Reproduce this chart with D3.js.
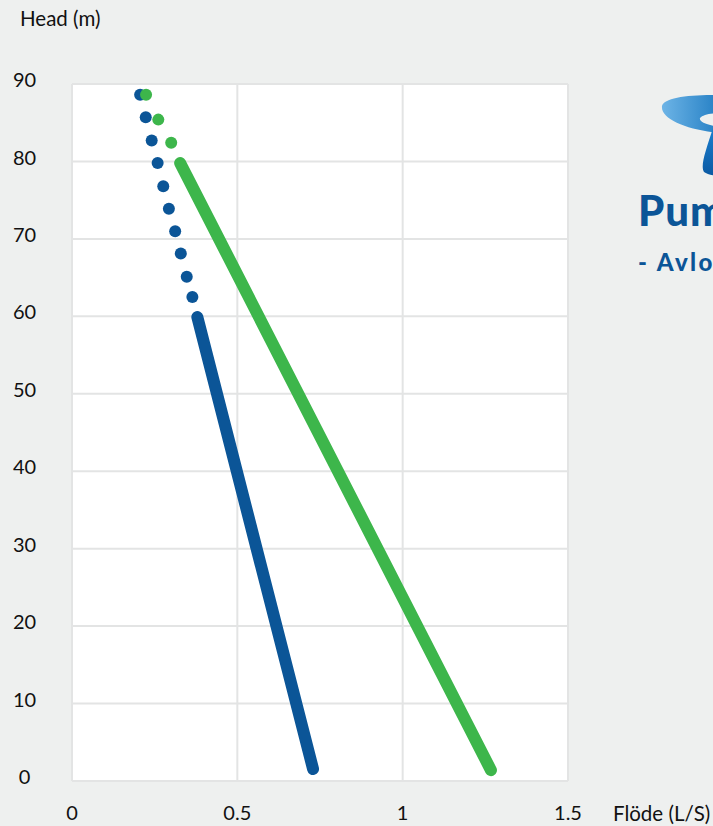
<!DOCTYPE html>
<html><head><meta charset="utf-8">
<script src="https://cdn.jsdelivr.net/npm/d3@7"></script>
<style>
html,body{margin:0;padding:0;background:#eef0ef;overflow:hidden;}
svg{display:block;font-family:Lato,"Open Sans",sans-serif;}
</style></head>
<body>
<svg id="c" width="713" height="826"></svg>
<script>
const xTicks = [0, 0.5, 1, 1.5];
const xTickLabels = ["0", "0.5", "1", "1.5"];
const yTicks = [0, 10, 20, 30, 40, 50, 60, 70, 80, 90];
const blueDots = [[0.206,88.6],[0.223,85.7],[0.241,82.7],[0.259,79.8],[0.276,76.8],[0.293,73.9],[0.312,71.0],[0.329,68.1],[0.347,65.1],[0.364,62.5]];
const blueLine = [[0.379,59.9],[0.729,1.55]];
const greenDots = [[0.224,88.6],[0.261,85.4],[0.300,82.4]];
const greenLine = [[0.327,79.8],[1.267,1.4]];
const blueColor = "#0b5597";
const greenColor = "#3db64b";

const svg = d3.select("#c");
const x = d3.scaleLinear().domain([0,1.5]).range([72,568]);
const y = d3.scaleLinear().domain([0,90]).range([781,84]);

// plot background
svg.append("rect").attr("x",x(0)).attr("y",y(90)).attr("width",x(1.5)-x(0)).attr("height",y(0)-y(90)).attr("fill","#ffffff");

// gridlines
svg.append("g").selectAll("line.h").data(yTicks).join("line")
  .attr("x1",x(0)).attr("x2",x(1.5)).attr("y1",d=>y(d)).attr("y2",d=>y(d))
  .attr("stroke","#e3e4e4").attr("stroke-width",2);
svg.append("g").selectAll("line.v").data(xTicks).join("line")
  .attr("y1",y(0)).attr("y2",y(90)).attr("x1",d=>x(d)).attr("x2",d=>x(d))
  .attr("stroke","#e3e4e4").attr("stroke-width",2);

// y tick labels
svg.append("g").selectAll("text").data(yTicks).join("text")
  .attr("x",24.5).attr("y",d=>y(d)-2).attr("text-anchor","middle").attr("dominant-baseline","middle")
  .attr("font-size",20).attr("fill","#111").text(d=>d);
// x tick labels
svg.append("g").selectAll("text").data(xTicks).join("text")
  .attr("x",d=>x(d)).attr("y",820).attr("text-anchor","middle")
  .attr("font-size",20).attr("fill","#111").text((d,i)=>xTickLabels[i]);

svg.append("text").attr("x",20).attr("y",26).attr("font-size",20.5).attr("fill","#111").text("Head (m)");
svg.append("text").attr("x",613).attr("y",821).attr("font-size",20.5).attr("fill","#111").text("Flöde (L/S)");

// lines
const line = d3.line().x(d=>x(d[0])).y(d=>y(d[1]));
svg.append("path").datum(blueLine).attr("d",line).attr("stroke",blueColor).attr("stroke-width",12).attr("stroke-linecap","round").attr("fill","none");
svg.append("path").datum(greenLine).attr("d",line).attr("stroke",greenColor).attr("stroke-width",12).attr("stroke-linecap","round").attr("fill","none");
svg.append("g").selectAll("circle").data(blueDots).join("circle")
  .attr("cx",d=>x(d[0])).attr("cy",d=>y(d[1])).attr("r",6).attr("fill",blueColor);
svg.append("g").selectAll("circle").data(greenDots).join("circle")
  .attr("cx",d=>x(d[0])).attr("cy",d=>y(d[1])).attr("r",6).attr("fill",greenColor);

// logo (partially cropped by the page edge, as in the reference)
const defs = svg.append("defs");
const g1 = defs.append("linearGradient").attr("id","sw").attr("x1","0").attr("x2","1").attr("y1","0").attr("y2","0");
g1.append("stop").attr("offset","0").attr("stop-color","#6db4e6");
g1.append("stop").attr("offset","1").attr("stop-color","#0a6cb8");
const g2 = defs.append("linearGradient").attr("id","dr").attr("x1","0").attr("x2","0").attr("y1","0").attr("y2","1");
g2.append("stop").attr("offset","0").attr("stop-color","#1a7fcf");
g2.append("stop").attr("offset","1").attr("stop-color","#0b5aa3");
svg.append("path").attr("d","M662,106 C664,96 700,93 740,96 L740,116 C725,112 705,112 700,118 C698,124 720,128 740,130 L740,134 C700,134 660,122 662,106 Z").attr("fill","url(#sw)");
svg.append("path").attr("d","M713,128 L740,128 L740,170 C735,176 712,178 704,172 C700,166 706,150 713,128 Z").attr("fill","url(#dr)");
svg.append("text").attr("x",638).attr("y",226).attr("font-size",42).attr("font-weight",900).attr("letter-spacing",1).attr("fill","#0b5597").text("Pum");
svg.append("text").attr("x",638).attr("y",271).attr("font-size",24).attr("font-weight",900).attr("letter-spacing",2.4).attr("fill","#0b5597").text("- Avlo");
</script>
</body></html>
